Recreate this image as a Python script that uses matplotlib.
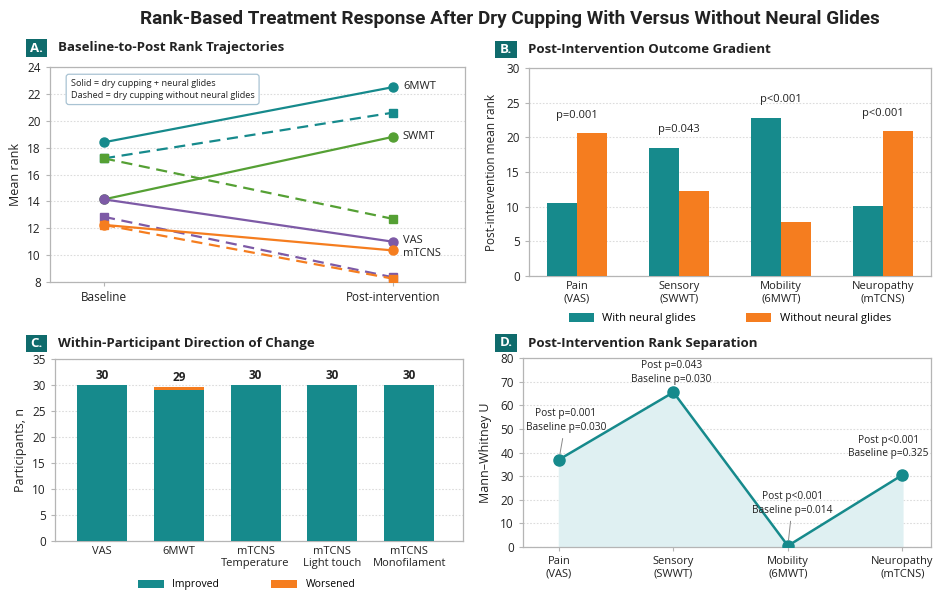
import matplotlib
matplotlib.use("Agg")
import matplotlib.pyplot as plt
from matplotlib.patches import Rectangle
import numpy as np

plt.rcParams['font.family'] = ['Open Sans', 'DejaVu Sans']

# ---------------- data ----------------
timepoints = ["Baseline", "Post-intervention"]
traj_names = ["6MWT", "SWMT", "VAS", "mTCNS"]
traj_with = [[18.4, 22.5], [14.15, 18.8], [14.15, 11.0], [12.25, 10.35]]
traj_without = [[17.2, 20.6], [17.2, 12.7], [12.85, 8.35], [12.25, 8.25]]

outcomes = ["Pain\n(VAS)", "Sensory\n(SWWT)", "Mobility\n(6MWT)", "Neuropathy\n(mTCNS)"]
post_with = [10.5, 18.5, 22.8, 10.1]
post_without = [20.6, 12.3, 7.8, 20.9]
post_p = ["p=0.001", "p=0.043", "p<0.001", "p<0.001"]

change_items = ["VAS", "6MWT", "mTCNS\nTemperature", "mTCNS\nLight touch", "mTCNS\nMonofilament"]
improved = [30, 29, 30, 30, 30]
worsened = [0, 0.7, 0, 0, 0]

mw_u = [37.0, 65.5, 0.5, 30.5]
mw_post_p = ["p=0.001", "p=0.043", "p<0.001", "p<0.001"]
mw_base_p = ["p=0.030", "p=0.030", "p=0.014", "p=0.325"]

# ---------------- style ----------------
TEAL = "#168a8c"
ORANGE = "#f57d1f"
GREEN = "#55a034"
PURPLE = "#7d5aa6"
DARK = "#0f6b6c"
GRID = "#dcdcdc"
SPINE = "#b5b5b5"
TXT = "#222222"
traj_colors = [TEAL, GREEN, PURPLE, ORANGE]

W, H = 933, 592
fig = plt.figure(figsize=(W / 100, H / 100), dpi=100)


def fx(px):
    return px / W


def fy(py):
    return 1 - py / H


def axes_px(l, t, r, b):
    return fig.add_axes([fx(l), fy(b), fx(r - l), (b - t) / H])


def style_axes(ax):
    for s in ax.spines.values():
        s.set_color(SPINE)
        s.set_linewidth(0.9)
    ax.tick_params(colors=TXT, labelsize=8.5, length=3, width=0.8, color=SPINE)
    ax.yaxis.grid(True, color=GRID, linestyle=(0, (1.5, 1.5)), linewidth=0.8)
    ax.set_axisbelow(True)


def panel_header(letter, title, bx0, by0, bx1, by1, tx):
    fig.patches.append(Rectangle((fx(bx0), fy(by1)), fx(bx1 - bx0), (by1 - by0) / H,
                                 transform=fig.transFigure, facecolor=DARK,
                                 edgecolor="none"))
    yc = fy((by0 + by1) / 2)
    fig.text(fx((bx0 + bx1) / 2), yc, letter, color="white", fontsize=9.5,
             fontweight="bold", ha="center", va="center")
    fig.text(fx(tx), yc, title, color=TXT, fontsize=9.5, fontweight="bold",
             ha="left", va="center")


# main title
fig.text(fx(510), fy(19), "Rank-Based Treatment Response After Dry Cupping With Versus Without Neural Glides",
         ha="center", va="center", fontsize=13.6, fontweight="bold", color=TXT,
         family=["Roboto", "DejaVu Sans"])

# ---------------- A: trajectories ----------------
axA = axes_px(50, 67, 465, 282)
style_axes(axA)
xs = np.arange(len(timepoints))
for yo, c in zip(traj_without, traj_colors):
    axA.plot(xs, yo, color=c, linestyle=(0, (5, 3)), linewidth=1.6,
             marker="s", markersize=6, zorder=3)
for yw, c in zip(traj_with, traj_colors):
    axA.plot(xs, yw, color=c, linestyle="-", linewidth=1.6,
             marker="o", markersize=6.5, zorder=4)
label_nudge = {"VAS": 0.1, "mTCNS": -0.2}
for name, yw in zip(traj_names, traj_with):
    axA.text(xs[-1] + 0.035, yw[-1] + label_nudge.get(name, 0.05), name,
             fontsize=8, color=TXT, va="center", ha="left")
axA.set_xlim(-0.187, 1.25)
axA.set_ylim(8, 24)
axA.set_yticks(np.arange(8, 25, 2))
axA.set_xticks(xs)
axA.set_xticklabels(timepoints, fontsize=8.5)
axA.set_ylabel("Mean rank", fontsize=9, color=TXT, labelpad=4)
axA.text(0.05, 0.945, "Solid = dry cupping + neural glides\nDashed = dry cupping without neural glides",
         transform=axA.transAxes, fontsize=6.6, color=TXT, va="top", ha="left",
         linespacing=1.45,
         bbox=dict(boxstyle="round,pad=0.5,rounding_size=0.3", facecolor="white",
                   edgecolor="#a9c3d3", linewidth=0.9))
panel_header("A.", "Baseline-to-Post Rank Trajectories", 26, 39, 47, 57, 58)

# ---------------- B: post-intervention bars ----------------
axB = axes_px(529, 68, 931, 276)
style_axes(axB)
xb = np.arange(len(outcomes))
bw = 0.29
axB.bar(xb - bw / 2, post_with, width=bw, color=TEAL, label="With neural glides", zorder=3)
axB.bar(xb + bw / 2, post_without, width=bw, color=ORANGE, label="Without neural glides", zorder=3)
for i, p in enumerate(post_p):
    top = max(post_with[i], post_without[i])
    axB.text(xb[i], top + 2.6, p, ha="center", va="center", fontsize=8, color=TXT)
axB.set_xlim(-0.47, 3.47)
axB.set_ylim(0, 30)
axB.set_yticks(np.arange(0, 31, 5))
axB.set_xticks(xb)
axB.set_xticklabels(outcomes, fontsize=8)
axB.tick_params(axis="x", length=0)
axB.set_ylabel("Post-intervention mean rank", fontsize=8.5, color=TXT, labelpad=6)
axB.legend(loc="center", bbox_to_anchor=(0.5, -0.205), ncol=2, frameon=False,
           fontsize=8, handlelength=2.2, handleheight=0.8, columnspacing=4.5)
panel_header("B.", "Post-Intervention Outcome Gradient", 495, 41, 517, 58, 528)

# ---------------- C: direction of change ----------------
axC = axes_px(55, 359, 463, 541)
style_axes(axC)
xc = np.arange(len(change_items))
axC.bar(xc, improved, width=0.65, color=TEAL, label="Improved", zorder=3)
axC.bar(xc, worsened, width=0.65, bottom=improved, color=ORANGE, label="Worsened", zorder=3)
for i in range(len(xc)):
    axC.text(xc[i], improved[i] + worsened[i] + 1.8, f"{improved[i]:g}", ha="center",
             va="center", fontsize=8.5, fontweight="bold", color=TXT)
axC.set_xlim(-0.61, 4.7)
axC.set_ylim(0, 35)
axC.set_yticks(np.arange(0, 36, 5))
axC.set_xticks(xc)
axC.set_xticklabels(change_items, fontsize=8)
axC.tick_params(axis="x", length=0)
axC.set_ylabel("Participants, n", fontsize=9, color=TXT, labelpad=4)
axC.legend(loc="center", bbox_to_anchor=(0.47, -0.24), ncol=2, frameon=False,
           fontsize=7.5, handlelength=2.5, handleheight=0.8, columnspacing=5)
panel_header("C.", "Within-Participant Direction of Change", 26, 335, 47, 352, 58)

# ---------------- D: Mann-Whitney U ----------------
axD = axes_px(523, 358, 931, 547)
style_axes(axD)
xd = np.arange(len(mw_u))
axD.fill_between(xd, mw_u, 0, color="#dff0f2", zorder=1)
axD.plot(xd, mw_u, color=TEAL, linewidth=1.8, marker="o", markersize=8, zorder=4)
# (x shift, y shift, draw leader line) for each annotation
ann_offsets = [(0.06, 16.5, True), (-0.02, 8.3, False), (0.04, 18.0, True), (-0.12, 11.8, False)]
for i, (dx, dy, leader) in enumerate(ann_offsets):
    txt = f"Post {mw_post_p[i]}\nBaseline {mw_base_p[i]}"
    ty = mw_u[i] + dy
    if leader:
        axD.annotate(txt, xy=(xd[i], mw_u[i]), xytext=(xd[i] + dx, ty),
                     ha="center", va="center", fontsize=7.3, color=TXT, linespacing=1.35,
                     arrowprops=dict(arrowstyle="-", color="#888888", lw=0.7,
                                     shrinkA=2, shrinkB=4), zorder=5)
    else:
        axD.text(xd[i] + dx, ty, txt, ha="center", va="center", fontsize=7.3,
                 color=TXT, linespacing=1.35, zorder=5)
axD.set_xlim(-0.314, 3.25)
axD.set_ylim(0, 80)
axD.set_yticks(np.arange(0, 81, 10))
axD.set_xticks(xd)
axD.set_xticklabels(outcomes, fontsize=8)
axD.set_ylabel("Mann\u2013Whitney U", fontsize=9, color=TXT, labelpad=6)
panel_header("D.", "Post-Intervention Rank Separation", 495, 334, 517, 352, 528)

fig.savefig("out.png", dpi=100, facecolor="white")
